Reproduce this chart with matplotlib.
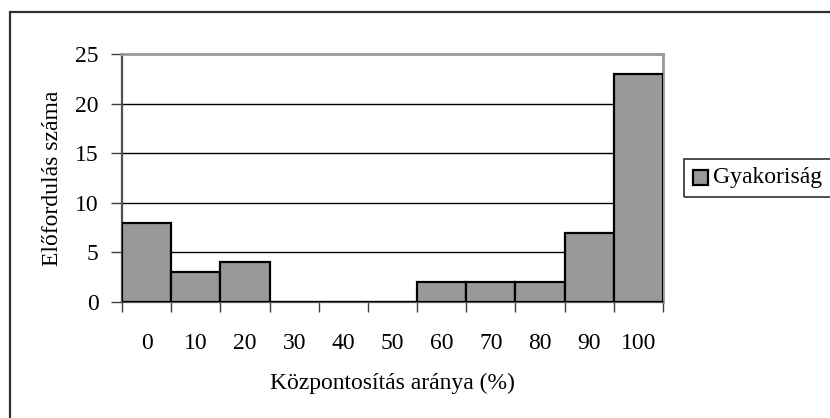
import matplotlib
matplotlib.use("Agg")
import matplotlib.pyplot as plt
from matplotlib.patches import Rectangle

categories = ["0", "10", "20", "30", "40", "50", "60", "70", "80", "90", "100"]
values = [8, 3, 4, 0, 0, 0, 2, 2, 2, 7, 23]
y_ticks = [0, 5, 10, 15, 20, 25]
series_name = "Gyakoriság"
x_title = "Központosítás aránya (%)"
y_title = "Előfordulás száma"

plt.rcParams['font.family'] = ['Liberation Serif', 'DejaVu Serif']
W, H = 830, 418
fig = plt.figure(figsize=(W / 100, H / 100), dpi=100)

L, R, T, B = 122, 663, 54, 302
ax = fig.add_axes([L / W, 1 - B / H, (R - L) / W, (B - T) / H])

x = list(range(len(categories)))
ax.bar(x, values, width=1.0, color="#999999", edgecolor="black", linewidth=1.6, zorder=3)

ax.set_xlim(-0.5, len(categories) - 0.5)
ax.set_ylim(0, 25)
ax.set_yticks(y_ticks)
ax.set_yticklabels([str(v) for v in y_ticks], fontsize=17)
ax.set_xticks(x)
ax.set_xticklabels(categories, fontsize=17)
ax.set_xticks([i - 0.5 for i in range(len(categories) + 1)], minor=True)
ax.tick_params(axis='x', which='major', length=0, pad=22)
ax.tick_params(axis='x', which='minor', length=7, width=1, color="#404040", direction='out')
ax.tick_params(axis='y', which='major', length=8, width=1, color="#404040", direction='out', pad=9)

for v in y_ticks[1:-1]:
    ax.axhline(v, color="black", linewidth=1.0, zorder=1)

for s in ['top', 'right']:
    ax.spines[s].set_color("#999999")
    ax.spines[s].set_linewidth(2)
ax.spines['left'].set_color("#505050")
ax.spines['left'].set_linewidth(1.6)
ax.spines['bottom'].set_color("#505050")
ax.spines['bottom'].set_linewidth(1.6)

fig.text((L + R) / 2 / W, 1 - 383 / H, x_title, fontsize=17, ha='center', va='center')
fig.text(52 / W, 1 - 178 / H, y_title, fontsize=17, ha='center', va='center', rotation=90)

# outer chart border
fig.patches.append(Rectangle((10 / W, -0.05), 1.2, 1 - 12 / H + 0.05, transform=fig.transFigure,
                             fill=False, edgecolor="#303030", linewidth=1.6))

# legend box
lx0, ly0, ly1 = 684, 159, 197
fig.patches.append(Rectangle((lx0 / W, 1 - ly1 / H), 0.3, (ly1 - ly0) / H, transform=fig.transFigure,
                             fill=False, edgecolor="#303030", linewidth=1.2))
fig.patches.append(Rectangle((693 / W, 1 - 185 / H), 15 / W, 15 / H, transform=fig.transFigure,
                             facecolor="#999999", edgecolor="black", linewidth=1.6))
fig.text(713 / W, 1 - 178 / H, series_name, fontsize=17, ha='left', va='center')

fig.savefig("out.png", dpi=100)
